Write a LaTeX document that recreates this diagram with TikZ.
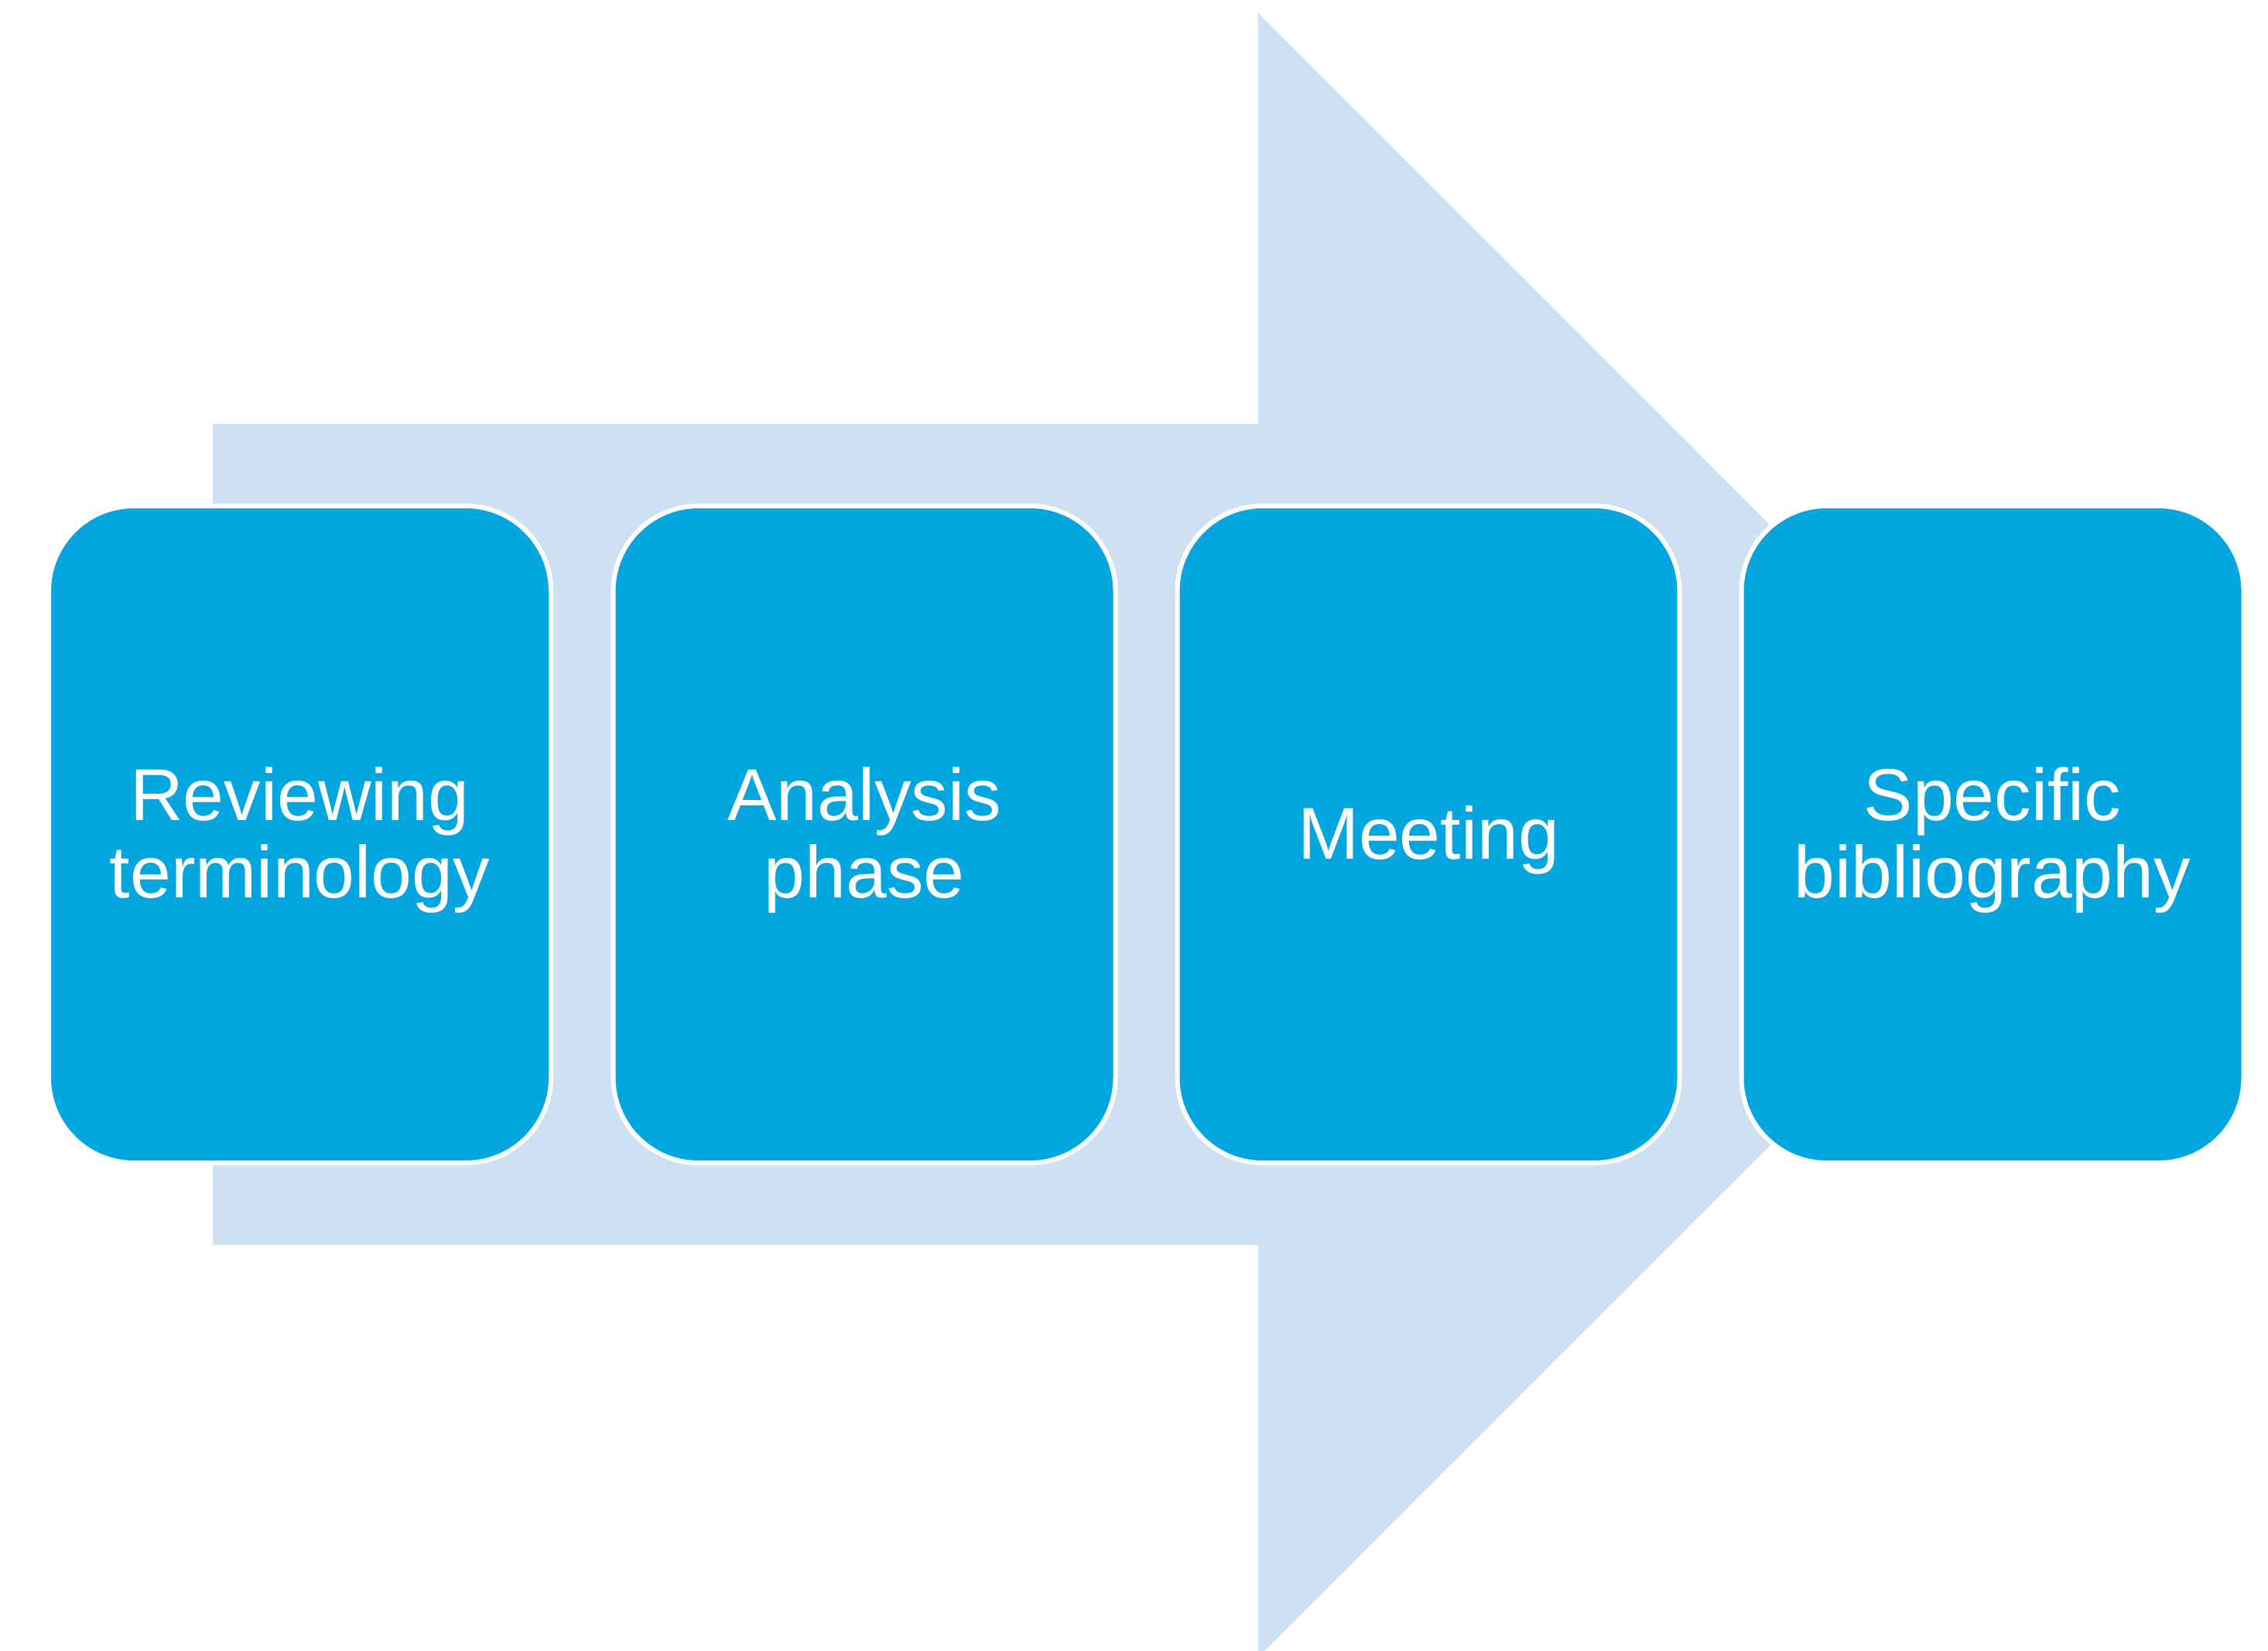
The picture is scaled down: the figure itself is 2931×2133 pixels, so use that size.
\documentclass[tikz,border=0pt]{standalone}
\usepackage{fontspec}
\setmainfont{Liberation Sans}
\definecolor{boxblue}{RGB}{4,166,223}
\definecolor{arrowblue}{RGB}{205,225,243}
\begin{document}
\begin{tikzpicture}[x=0.25pt,y=-0.25pt,
  stepbox/.style={draw=white,line width=1.5pt,fill=boxblue,rounded corners=27.5pt,
    minimum width=162.25pt,minimum height=212.25pt,inner sep=0pt},
  steptext/.style={text=white,align=center,inner sep=0pt,
    font=\fontsize{23.75}{25}\selectfont,text width=150pt}]
\clip (0,0) rectangle (2931,2133);
\fill[white] (0,0) rectangle (2931,2133);
\fill[arrowblue] (275,548) -- (1626,548) -- (1626,17) -- (2688,1079.5) -- (1626,2142) -- (1626,1609) -- (275,1609) -- cycle;
\node[stepbox] (b1) at (387.5,1078.5) {};
\node[stepbox] (b2) at (1117,1078.5) {};
\node[stepbox] (b3) at (1846,1078.5) {};
\node[stepbox] (b4) at (2575,1078.5) {};
\node[steptext] (t1) at ([yshift=-1.75pt]b1.center) {Reviewing\\terminology};
\node[steptext] (t2) at ([yshift=-1.75pt]b2.center) {Analysis\\phase};
\node[steptext] (t3) at ([yshift=-1.75pt]b3.center) {Meeting};
\node[steptext] (t4) at ([yshift=-1.75pt]b4.center) {Specific\\bibliography};
\end{tikzpicture}
\end{document}
